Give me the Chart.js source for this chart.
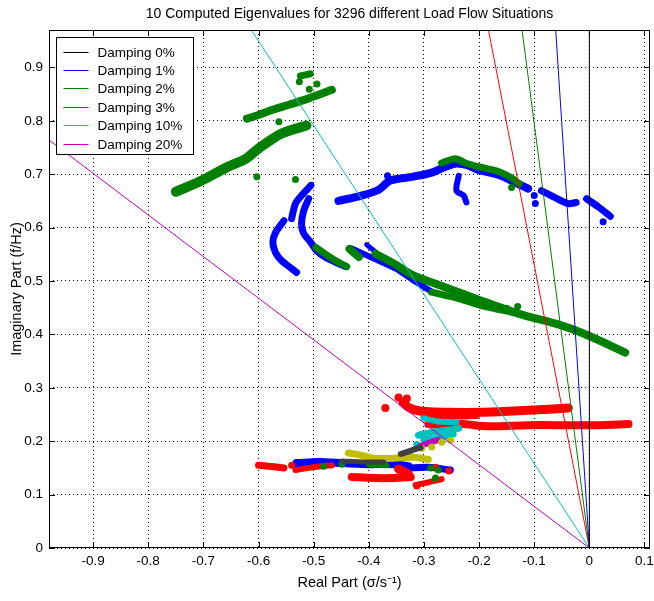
<!DOCTYPE html>
<html><head><meta charset="utf-8">
<script src="https://cdn.jsdelivr.net/npm/chart.js@4.4.1/dist/chart.umd.min.js"></script>
<style>html,body{margin:0;padding:0;background:#fff}</style>
</head><body>
<canvas id="c" width="654" height="601"></canvas>
<script>
// ---------- text ----------
const chartTitle = '10 Computed Eigenvalues for 3296 different Load Flow Situations';

// ---------- axis ticks ----------
const xTicks = [-0.9,-0.8,-0.7,-0.6,-0.5,-0.4,-0.3,-0.2,-0.1,0,0.1];
const xTickLabels = ['-0.9','-0.8','-0.7','-0.6','-0.5','-0.4','-0.3','-0.2','-0.1','0','0.1'];
const yTicks = [0,0.1,0.2,0.3,0.4,0.5,0.6,0.7,0.8,0.9];
const yTickLabels = ['0','0.1','0.2','0.3','0.4','0.5','0.6','0.7','0.8','0.9'];

// ---------- damping lines (end points; all start at the origin) ----------
const dampingLabels = ['Damping 0%','Damping 1%','Damping 2%','Damping 3%','Damping 10%','Damping 20%'];
const dampingEndX = [0, -0.061, -0.122, -0.183, -0.613, -0.98];
const dampingEndY = [0.97, 0.97, 0.97, 0.97, 0.97, 0.764];

// ---------- eigenvalue traces (real part, imaginary part in Hz) ----------
// green
const greenUpperBand = [[-0.621,0.804],[-0.600,0.811],[-0.582,0.818],[-0.545,0.830],[-0.509,0.842],[-0.467,0.858]];
const greenLowerBand = [[-0.750,0.667],[-0.703,0.688],[-0.659,0.712],[-0.623,0.729],[-0.600,0.748],[-0.558,0.776],[-0.513,0.791]];
const greenTopBlob = [[-0.524,0.884],[-0.506,0.888]];
const greenDots = [[-0.526,0.873],[-0.494,0.869],[-0.508,0.859],[-0.563,0.798],[-0.603,0.695],[-0.533,0.690],[-0.141,0.675],[-0.150,0.449],[-0.130,0.452]];
const greenArcTop = [[-0.268,0.721],[-0.243,0.729],[-0.225,0.721],[-0.201,0.714],[-0.165,0.705],[-0.141,0.693],[-0.127,0.682]];
const greenClusterTail = [[-0.496,0.563],[-0.478,0.550],[-0.460,0.538],[-0.440,0.527]];
const greenMidBlob = [[-0.435,0.560],[-0.418,0.545]];
const greenLongBand = [[-0.388,0.551],[-0.355,0.533],[-0.322,0.512],[-0.261,0.488],[-0.201,0.465],[-0.129,0.439],[-0.051,0.417],[-0.002,0.398],[0.065,0.366]];
const greenLongBandLower = [[-0.286,0.479],[-0.237,0.467],[-0.188,0.452],[-0.141,0.442]];
const greenLowDots = [[-0.482,0.153],[-0.449,0.157],[-0.288,0.150],[-0.274,0.146],[-0.279,0.131]];
const greenLowSeg = [[-0.400,0.157],[-0.368,0.155]];
// blue
const blueLeftUpper = [[-0.505,0.679],[-0.522,0.660],[-0.533,0.645],[-0.540,0.617]];
const blueLeftMid = [[-0.509,0.654],[-0.518,0.632],[-0.522,0.607],[-0.518,0.589],[-0.505,0.572],[-0.495,0.557],[-0.478,0.544],[-0.460,0.535],[-0.442,0.527]];
const blueLeftArc = [[-0.554,0.613],[-0.569,0.591],[-0.574,0.572],[-0.569,0.553],[-0.558,0.538],[-0.542,0.525],[-0.531,0.516]];
const blueArc = [[-0.455,0.650],[-0.413,0.660],[-0.382,0.671],[-0.361,0.688],[-0.322,0.695],[-0.286,0.703],[-0.261,0.714],[-0.241,0.720],[-0.219,0.716],[-0.201,0.708],[-0.165,0.699],[-0.134,0.684],[-0.111,0.673]];
const blueArcRight1 = [[-0.087,0.669],[-0.062,0.656],[-0.038,0.645],[-0.024,0.647]];
const blueArcRight2 = [[-0.005,0.654],[0.016,0.639],[0.038,0.621]];
const blueDrop = [[-0.237,0.697],[-0.241,0.669],[-0.228,0.660],[-0.223,0.647]];
const blueDots = [[-0.098,0.645],[0.025,0.611],[-0.366,0.697],[-0.100,0.660]];
const blueCross = [[-0.404,0.568],[-0.386,0.553]];
const blueLowerStrand = [[-0.431,0.561],[-0.391,0.542],[-0.351,0.523],[-0.319,0.501],[-0.286,0.480]];
const blueLow1 = [[-0.531,0.159],[-0.491,0.161],[-0.446,0.159],[-0.400,0.157],[-0.355,0.157],[-0.328,0.153]];
const blueLow2 = [[-0.328,0.150],[-0.292,0.151],[-0.252,0.146]];
// red
const redUpper = [[-0.338,0.272],[-0.326,0.262],[-0.310,0.257],[-0.290,0.255],[-0.255,0.254],[-0.201,0.254],[-0.147,0.256],[-0.092,0.259],[-0.038,0.262]];
const redUpperUnder = [[-0.300,0.248],[-0.255,0.247],[-0.205,0.248]];
const redUpperDots = [[-0.346,0.282],[-0.331,0.280],[-0.370,0.262]];
const redLower = [[-0.292,0.232],[-0.255,0.230],[-0.232,0.232],[-0.183,0.228],[-0.111,0.230],[-0.038,0.230],[0.016,0.230],[0.071,0.232]];
const redLow1 = [[-0.600,0.155],[-0.582,0.153],[-0.554,0.150]];
const redLow2 = [[-0.533,0.146],[-0.509,0.150],[-0.487,0.153],[-0.467,0.155]];
const redLow3 = [[-0.431,0.133],[-0.391,0.131],[-0.355,0.131],[-0.324,0.133]];
const redLowBlob = [[-0.346,0.148],[-0.328,0.138]];
const redLow4 = [[-0.315,0.118],[-0.292,0.123],[-0.268,0.129]];
const redLowDots = [[-0.540,0.155],[-0.279,0.151],[-0.255,0.144],[-0.313,0.116]];
// cyan
const cyan1 = [[-0.301,0.243],[-0.274,0.237],[-0.241,0.236]];
const cyan2 = [[-0.310,0.211],[-0.283,0.217],[-0.255,0.221],[-0.237,0.224]];
const cyan3 = [[-0.301,0.202],[-0.274,0.206],[-0.246,0.213]];
const cyanDots = [[-0.313,0.194]];
// magenta
const magenta1 = [[-0.306,0.191],[-0.288,0.198],[-0.274,0.202]];
// yellow
const yellow1 = [[-0.437,0.178],[-0.415,0.174],[-0.391,0.168],[-0.355,0.168],[-0.319,0.170],[-0.292,0.166]];
const yellowDots = [[-0.268,0.198],[-0.252,0.202],[-0.286,0.189],[-0.304,0.187]];
// dark grey
const grey1 = [[-0.449,0.163],[-0.409,0.161],[-0.373,0.161]];
const grey2 = [[-0.342,0.176],[-0.322,0.183],[-0.306,0.188]];

// ---------- styling ----------
const FONT = "'Liberation Sans', Arial, sans-serif";
const dampingColors = ['#000000','#0000ff','#008000','#ff0000','#00bfbf','#bf00bf'];
const C = {green:'#008000', blue:'#0000ff', red:'#ff0000', cyan:'#00bfbf', magenta:'#bf00bf', yellow:'#bfbf00', grey:'#404040'};

const pts = a => a.map(([x,y]) => ({x, y}));
function strand(a, color, w){
  return {data: pts(a), showLine:true, borderColor:color, backgroundColor:color, borderWidth:w,
          pointRadius:0, pointHoverRadius:0, borderCapStyle:'round', borderJoinStyle:'round', tension:0.3};
}
function dots(a, color, r){
  return {data: pts(a), showLine:false, backgroundColor:color, borderWidth:0, pointRadius:r, pointHoverRadius:r};
}

const datasets = [];
dampingLabels.forEach((lab, i) => {
  datasets.push({label:lab, data:[{x:0,y:0},{x:dampingEndX[i],y:dampingEndY[i]}], showLine:true,
    borderColor:dampingColors[i], borderWidth:1, pointRadius:0, pointHoverRadius:0, tension:0});
});
datasets.push(strand(grey1, C.grey, 5), strand(grey2, C.grey, 6));
datasets.push(strand(yellow1, C.yellow, 7), dots(yellowDots, C.yellow, 3.5));
datasets.push(strand(magenta1, C.magenta, 6));
datasets.push(strand(cyan1, C.cyan, 6), strand(cyan2, C.cyan, 7), strand(cyan3, C.cyan, 6), dots(cyanDots, C.cyan, 3.5));
datasets.push(strand(greenUpperBand, C.green, 8), strand(greenLowerBand, C.green, 10), strand(greenTopBlob, C.green, 7),
  dots(greenDots, C.green, 3.5), strand(greenArcTop, C.green, 7), strand(greenClusterTail, C.green, 7),
  strand(greenMidBlob, C.green, 8), strand(greenLongBand, C.green, 8), strand(greenLongBandLower, C.green, 7),
  dots(greenLowDots, C.green, 3.5), strand(greenLowSeg, C.green, 6));
datasets.push(strand(redUpper, C.red, 9), strand(redUpperUnder, C.red, 7), dots(redUpperDots, C.red, 4), strand(redLower, C.red, 8),
  strand(redLow1, C.red, 7), strand(redLow2, C.red, 6), strand(redLow3, C.red, 8), strand(redLowBlob, C.red, 9),
  strand(redLow4, C.red, 6), dots(redLowDots, C.red, 3.5));
datasets.push(strand(blueLeftUpper, C.blue, 7), strand(blueLeftMid, C.blue, 7), strand(blueLeftArc, C.blue, 7),
  strand(blueArc, C.blue, 8), strand(blueArcRight1, C.blue, 7), strand(blueArcRight2, C.blue, 7),
  strand(blueDrop, C.blue, 6), dots(blueDots, C.blue, 3.5), strand(blueCross, C.blue, 5),
  strand(blueLowerStrand, C.blue, 6), strand(blueLow1, C.blue, 8), strand(blueLow2, C.blue, 7));

const framePlugin = {
  id:'frame',
  afterDatasetsDraw(chart){
    const {ctx, chartArea:a, scales:{x, y}} = chart;
    ctx.save();
    ctx.strokeStyle = '#000'; ctx.lineWidth = 1;
    ctx.beginPath();
    const TL = 6;
    xTicks.forEach(v => { const px = Math.round(x.getPixelForValue(v)) + 0.5;
      ctx.moveTo(px, a.bottom); ctx.lineTo(px, a.bottom - TL);
      ctx.moveTo(px, a.top); ctx.lineTo(px, a.top + TL); });
    yTicks.forEach(v => { const py = Math.round(y.getPixelForValue(v)) + 0.5;
      ctx.moveTo(a.left, py); ctx.lineTo(a.left + TL, py);
      ctx.moveTo(a.right, py); ctx.lineTo(a.right - TL, py); });
    ctx.stroke();
    ctx.strokeRect(Math.round(a.left)+0.5, Math.round(a.top)+0.5, Math.round(a.right-a.left)-1, Math.round(a.bottom-a.top)-1);
    // title centred over the axes
    ctx.fillStyle = '#000'; ctx.font = '14px ' + FONT; ctx.textAlign = 'center'; ctx.textBaseline = 'middle';
    ctx.fillText(chartTitle, (a.left + a.right) / 2, a.top - 16);
    // legend
    const lx = Math.round(a.left) + 7.5, ly = Math.round(a.top) + 7.5, lw = 137, lh = 117;
    ctx.fillStyle = '#fff'; ctx.fillRect(lx, ly, lw, lh);
    ctx.strokeRect(lx, ly, lw, lh);
    ctx.font = '13.5px ' + FONT; ctx.textBaseline = 'middle'; ctx.textAlign = 'left';
    dampingLabels.forEach((lab, i) => {
      const ry = Math.round(ly + 14 + i * 18.4) + 0.5;
      ctx.strokeStyle = dampingColors[i]; ctx.beginPath();
      ctx.moveTo(lx + 7, ry); ctx.lineTo(lx + 32, ry); ctx.stroke();
      ctx.fillStyle = '#000'; ctx.fillText(lab, lx + 41, ry + 0.5);
    });
    ctx.restore();
  }
};

Chart.defaults.font.family = FONT;
Chart.defaults.color = '#000';

new Chart(document.getElementById('c'), {
  type:'scatter',
  data:{datasets},
  options:{
    responsive:false, animation:false, events:[],
    layout:{padding:{left:0, right:3, top:30, bottom:0}},
    plugins:{ legend:{display:false}, tooltip:{enabled:false}, title:{display:false} },
    scales:{
      x:{type:'linear', min:-0.98, max:0.11,
        afterBuildTicks: s => { s.ticks = xTicks.map(v => ({value:v})); },
        afterFit: s => { s.height = 53; s.paddingLeft = 0; s.paddingRight = 0; },
        ticks:{callback:(v,i) => xTickLabels[i], font:{size:13.5}, color:'#000', padding:5, maxRotation:0, autoSkip:false},
        grid:{color:'#000', lineWidth:1, drawTicks:false},
        border:{display:false, dash:[1,3]},
        title:{display:true, text:'Real Part (σ/s⁻¹)', font:{size:14.5}, color:'#000', padding:{top:0, bottom:9}}
      },
      y:{type:'linear', min:0, max:0.97,
        afterBuildTicks: s => { s.ticks = yTicks.map(v => ({value:v})); },
        afterFit: s => { s.width = 49; s.paddingTop = 0; s.paddingBottom = 0; },
        ticks:{callback:(v,i) => yTickLabels[i], font:{size:13.5}, color:'#000', padding:6, autoSkip:false},
        grid:{color:'#000', lineWidth:1, drawTicks:false},
        border:{display:false, dash:[1,3]},
        title:{display:true, text:'Imaginary Part (f/Hz)', font:{size:14.5}, color:'#000', padding:{top:8, bottom:0}}
      }
    }
  },
  plugins:[framePlugin]
});
</script>
</body></html>
